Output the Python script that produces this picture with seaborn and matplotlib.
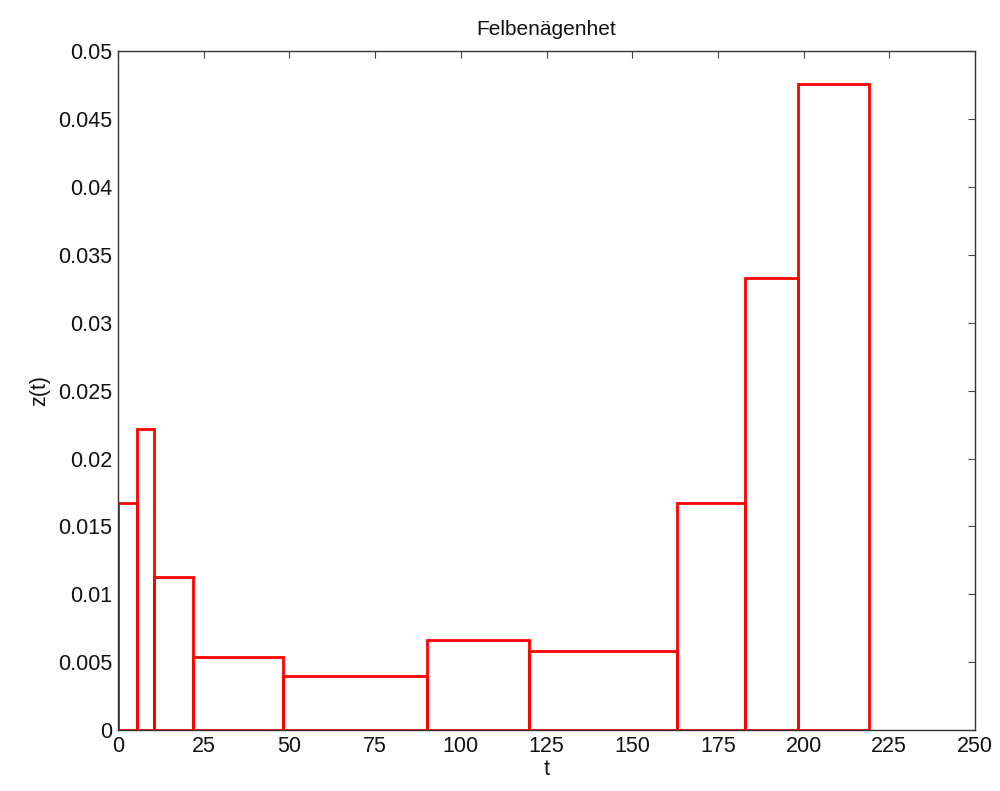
import numpy as np
import pandas as pd
import matplotlib
matplotlib.use("Agg")
import matplotlib.pyplot as plt
import seaborn as sns
from matplotlib.ticker import FuncFormatter

# Data
bin_edges = [0, 5.5, 10.5, 22, 48, 90, 120, 163, 183, 198.5, 219]
heights = [0.0167, 0.0222, 0.0113, 0.0054, 0.0040, 0.0066, 0.0058, 0.0167, 0.0333, 0.0476]
x_ticks = [0, 25, 50, 75, 100, 125, 150, 175, 200, 225, 250]
y_ticks = [0, 0.005, 0.01, 0.015, 0.02, 0.025, 0.03, 0.035, 0.04, 0.045, 0.05]

sns.set_style("white")
plt.rcParams['font.family'] = ['Liberation Sans', 'DejaVu Sans']

mids = [(a + b) / 2 for a, b in zip(bin_edges[:-1], bin_edges[1:])]
df = pd.DataFrame({"t": mids, "z": heights})

fig = plt.figure(figsize=(10, 7.91), dpi=100)
ax = fig.add_axes([0.118, 0.0771, 0.857, 0.858])

sns.histplot(data=df, x="t", weights="z", bins=bin_edges, element="bars",
             fill=False, color="red", linewidth=2.0, ax=ax)

ax.set_xlim(0, 250)
ax.set_ylim(0, 0.05)
ax.set_xticks(x_ticks)
ax.set_yticks(y_ticks)
ax.yaxis.set_major_formatter(FuncFormatter(lambda v, p: "%g" % v))
ax.tick_params(direction="in", length=5, width=0.8, top=True, right=True,
               labelsize=15.5, color="#444444", labelcolor="#111111", pad=4)
for s in ax.spines.values():
    s.set_visible(True)
    s.set_color("#333333")
    s.set_linewidth(1.0)

ax.set_title("Felbenägenhet", fontsize=15, pad=12, color="#111111")
ax.set_xlabel("t", fontsize=15.5, labelpad=2, color="#111111")
ax.set_ylabel("z(t)", fontsize=15.5, labelpad=6, color="#111111")

fig.savefig("out.png", dpi=100)
